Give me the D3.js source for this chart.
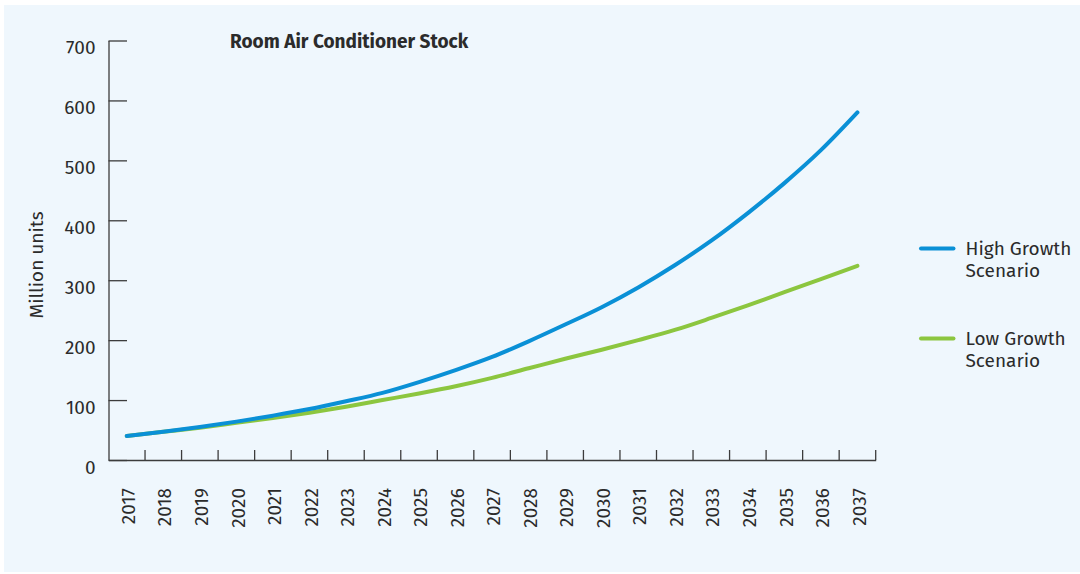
<!DOCTYPE html>
<html>
<head>
<meta charset="utf-8">
<script src="https://cdn.jsdelivr.net/npm/d3@7/dist/d3.min.js"></script>
<style>
  html, body { margin: 0; padding: 0; background: #ffffff; }
  svg { display: block; }
  text { font-family: "Fira Sans", "Noto Sans", "Open Sans", sans-serif; fill: #2b2b2b; }
</style>
</head>
<body>
<svg id="chart" width="1080" height="574"></svg>
<script>
// ---- data ----
const years = ["2017","2018","2019","2020","2021","2022","2023","2024","2025","2026","2027",
               "2028","2029","2030","2031","2032","2033","2034","2035","2036","2037"];
const highGrowth = [40, 47, 55, 64, 74, 85, 98, 112, 130, 150, 172,
                    198, 226, 255, 288, 325, 366, 412, 462, 517, 580];
const lowGrowth  = [40, 47, 54, 62, 70, 79, 89, 100, 111, 123, 137,
                    153, 169, 184, 200, 217, 237, 258, 280, 302, 324];
const yTicks = [0, 100, 200, 300, 400, 500, 600, 700];
const seriesNames = ["High Growth Scenario", "Low Growth Scenario"];
const seriesLegendLines = [["High Growth", "Scenario"], ["Low Growth", "Scenario"]];
const seriesColors = ["#0a90d6", "#8cc63f"];
const title = "Room Air Conditioner Stock";
const yTitle = "Million units";

// ---- layout ----
const svg = d3.select("#chart");
svg.append("rect").attr("x", 4).attr("y", 5).attr("width", 1076).attr("height", 567)
   .attr("fill", "#eff7fd");

const x = d3.scaleBand().domain(years).range([108.5, 875.7]).paddingInner(0).paddingOuter(0);
const bw = x.bandwidth();
const y = d3.scaleLinear().domain([0, 700]).range([460, 40.5]);
const axisColor = "#3c3c3c";
const fontStack = '"Fira Sans", "Noto Sans", sans-serif';

// y axis
const gy = svg.append("g").attr("transform", "translate(108.5,0)")
  .call(d3.axisLeft(y).tickValues(yTicks).tickSizeInner(-18.5).tickSizeOuter(0).tickPadding(13));
gy.select(".domain").attr("stroke", axisColor).attr("stroke-width", 1.3);
gy.selectAll(".tick line").attr("stroke", axisColor).attr("stroke-width", 1.3);
gy.selectAll(".tick text").attr("font-size", 19).attr("y", 7).attr("fill", "#2b2b2b")
  .style("font-family", fontStack);

// x axis
const gx = svg.append("g").attr("transform", "translate(0,460)")
  .call(d3.axisBottom(x).tickSizeInner(0).tickSizeOuter(0).tickPadding(0));
gx.select(".domain").attr("stroke", axisColor).attr("stroke-width", 1.3);
gx.selectAll(".tick text")
  .attr("font-size", 19).attr("fill", "#2b2b2b")
  .style("font-family", fontStack)
  .attr("text-anchor", "end")
  .attr("transform", "translate(1.5,28) rotate(-90)")
  .attr("x", 0).attr("y", 0).attr("dy", "0.35em");
// boundary ticks between categories
svg.append("g").selectAll("line").data(years).join("line")
  .attr("x1", d => x(d) + bw).attr("x2", d => x(d) + bw)
  .attr("y1", 460).attr("y2", 450)
  .attr("stroke", axisColor).attr("stroke-width", 1.3);

// lines
const series = [highGrowth, lowGrowth];
const line = d3.line()
  .x((d, i) => x(years[i]) + bw / 2)
  .y(d => y(d))
  .curve(d3.curveMonotoneX);
svg.append("g").selectAll("path").data([1, 0]).join("path")
  .attr("d", i => line(series[i]))
  .attr("fill", "none")
  .attr("stroke", i => seriesColors[i])
  .attr("stroke-width", 4)
  .attr("stroke-linecap", "round")
  .attr("stroke-linejoin", "round");

// title
svg.append("text").attr("x", 230).attr("y", 48)
  .attr("font-size", 19).attr("font-weight", "bold").text(title);

// y title
svg.append("text").attr("transform", "translate(43,265) rotate(-90)")
  .attr("text-anchor", "middle").attr("font-size", 19).text(yTitle);

// legend
const legendY = [248.5, 338.5];
const lg = svg.append("g");
seriesNames.forEach((name, i) => {
  lg.append("line").attr("x1", 921).attr("x2", 953.5)
    .attr("y1", legendY[i]).attr("y2", legendY[i])
    .attr("stroke", seriesColors[i]).attr("stroke-width", 4).attr("stroke-linecap", "round");
  const t = lg.append("text").attr("x", 965.5).attr("y", legendY[i] + 6.5).attr("font-size", 19);
  seriesLegendLines[i].forEach((s, j) => {
    t.append("tspan").attr("x", 965.5).attr("dy", j === 0 ? 0 : 21.7).text(s);
  });
});
</script>
</body>
</html>
